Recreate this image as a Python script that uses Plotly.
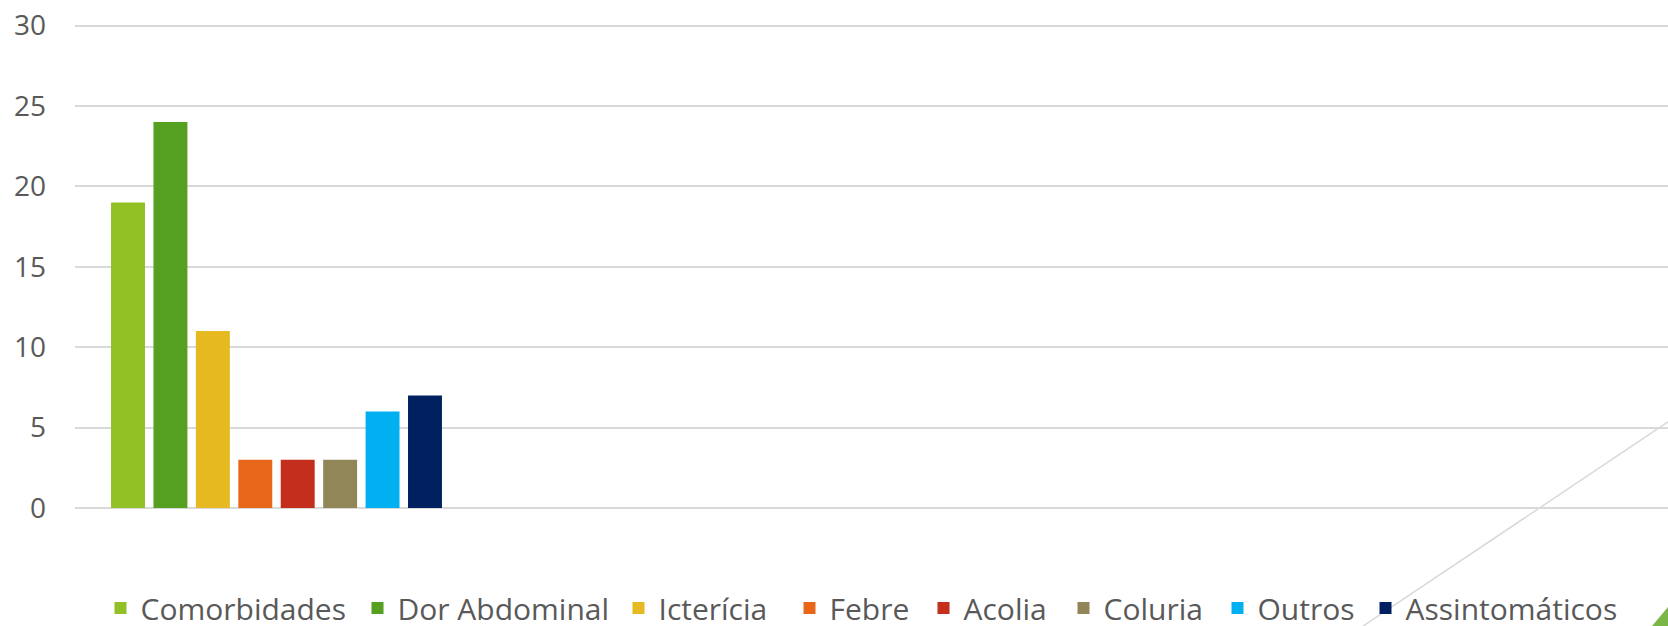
import plotly.graph_objects as go

# ---- data ----
category = [""]
series_names = ["Comorbidades", "Dor Abdominal", "Icterícia", "Febre",
                "Acolia", "Coluria", "Outros", "Assintomáticos"]
series_values = [19, 24, 11, 3, 3, 3, 6, 7]
y_ticks = [0, 5, 10, 15, 20, 25, 30]

# ---- style ----
series_colors = ["#92C125", "#55A021", "#E5B91F", "#E8661A",
                 "#C32F1C", "#918657", "#00B0F0", "#002060"]
# left pixel where each legend entry's text starts (reference layout)
legend_text_x = [142, 399, 660, 831, 965, 1105, 1259, 1407]

W, H = 1668, 626
L, B = 75, 118
Y_MAX = 30.1
px_per_unit = (508 - 26) / 30.0
plot_h = px_per_unit * Y_MAX
T = H - B - plot_h
plot_w = W - L

fig = go.Figure()
legend_layouts = {}
for i, (name, val, col) in enumerate(zip(series_names, series_values, series_colors)):
    key = "legend" if i == 0 else f"legend{i + 1}"
    fig.add_trace(go.Bar(x=category, y=[val], name=name, legend=key,
                         marker=dict(color=col, line=dict(width=0))))
    legend_layouts[key] = dict(
        orientation="h", xref="container", yref="container",
        x=(legend_text_x[i] - 41.5) / W, xanchor="left",
        y=(H - 608) / H, yanchor="middle",
        font=dict(size=30, color="#595959", family="Open Sans, sans-serif"),
        bgcolor="rgba(0,0,0,0)", borderwidth=0)


def px_x(px):
    return (px - L) / plot_w


def px_y(py):
    return (H - B - py) / plot_h


# decorative stray shapes seen at bottom-right of the reference
fig.add_shape(type="line", xref="paper", yref="paper",
              x0=px_x(1363), y0=px_y(626), x1=px_x(1668), y1=px_y(422),
              line=dict(color="#d9d9d9", width=1.5))
fig.add_shape(type="path", xref="paper", yref="paper",
              path=f"M {px_x(1652)} {px_y(626)} L {px_x(1668)} {px_y(626)} L {px_x(1668)} {px_y(607)} Z",
              fillcolor="#7AB648", line=dict(width=0))

group_center_px = 276.5
slot_px = 424.25
fig.update_layout(
    width=W, height=H,
    margin=dict(l=L, r=0, t=T, b=B, pad=0),
    paper_bgcolor="white", plot_bgcolor="white",
    barmode="group", bargap=0.2, bargroupgap=0.2,
    font=dict(family="Open Sans, sans-serif", color="#595959", size=28),
    showlegend=True,
    xaxis=dict(type="category",
               range=[-(group_center_px - L) / slot_px, (W - group_center_px) / slot_px],
               showticklabels=False, showgrid=False, zeroline=False,
               showline=False, ticks="", automargin=False),
    yaxis=dict(range=[0, Y_MAX], tickvals=y_ticks, showgrid=True,
               gridcolor="#d9d9d9", gridwidth=2, zeroline=True,
               zerolinecolor="#d9d9d9", zerolinewidth=2, showline=False,
               ticks="", ticklabelstandoff=28, automargin=False,
               tickfont=dict(size=28, color="#595959")),
    **legend_layouts,
)

fig.write_html("out.html")
